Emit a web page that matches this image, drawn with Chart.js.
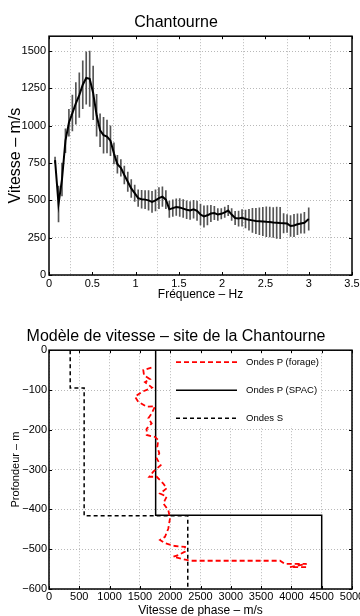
<!DOCTYPE html>
<html><head><meta charset="utf-8">
<script src="https://cdn.jsdelivr.net/npm/chart.js@4.4.0/dist/chart.umd.min.js"></script>
<style>
html,body{margin:0;padding:0;background:#fff;overflow:hidden;}
#w1{position:absolute;left:0;top:0;width:360px;height:306px;}
#w2{position:absolute;left:0;top:306px;width:360px;height:310px;}
</style></head><body>
<div id="w1"><canvas id="c1" width="360" height="306"></canvas></div>
<div id="w2"><canvas id="c2" width="360" height="310"></canvas></div>
<script>
// ---- Top chart: dispersion curve (Hz, m/s) ----
const freq = [0.07,0.11,0.15,0.19,0.23,0.27,0.31,0.35,0.39,0.43,0.47,0.51,0.55,0.59,0.63,0.67,0.71,0.75,0.79,0.83,0.87,0.91,0.95,0.99,1.03,1.07,1.11,1.15,1.19,1.23,1.27,1.31,1.35,1.39,1.43,1.47,1.51,1.55,1.59,1.63,1.67,1.71,1.75,1.79,1.83,1.87,1.91,1.95,1.99,2.03,2.07,2.11,2.15,2.19,2.23,2.27,2.31,2.35,2.39,2.43,2.47,2.51,2.55,2.59,2.63,2.67,2.71,2.75,2.79,2.83,2.87,2.91,2.95,3.00];
const vitesse = [770,475,640,900,1020,1085,1150,1205,1275,1320,1315,1220,1070,970,937,928,900,815,742,718,670,625,580,548,515,508,505,500,490,500,515,525,505,440,448,455,452,445,437,432,440,430,405,392,400,412,415,405,410,420,432,405,382,378,383,375,370,366,362,360,358,356,355,352,350,348,347,345,328,332,340,345,350,375];
const ecart = [20,120,110,80,90,120,140,150,160,175,185,180,140,110,120,110,100,70,60,55,60,65,60,55,55,60,60,65,70,70,70,65,60,55,55,55,60,60,60,60,60,65,70,72,65,55,45,40,35,35,35,40,45,50,55,60,70,80,85,90,95,100,100,100,105,105,65,60,70,75,70,65,70,75];

// ---- Bottom chart: velocity models (m/s, depth m) ----
const forageV = [1690,1556,1568,1667,1584,1700,1529,1419,1474,1612,1749,1694,1639,1694,1612,1612,1749,1804,1787,1820,1777,1843,1721,1655,1777,1886,1942,1832,1942,1886,1969,1997,1969,1914,1832,1914,2080,2244,2244,2134,2051,2162,2272,2327,3812,3894,4252,3977,4252];
const forageD = [-44,-50,-63,-73,-80,-94,-105,-117,-130,-142,-141,-159,-171,-184,-197,-213,-218,-226,-243,-259,-272,-289,-305,-318,-318,-335,-347,-360,-368,-385,-402,-422,-448,-469,-477,-485,-492,-494,-506,-515,-519,-523,-527,-529,-529,-537,-537,-545,-545];
const spacV = [1760,1760,4500,4500];
const spacD = [0,-415,-415,-600];
const sV = [350,350,580,580,2290,2290];
const sD = [0,-95,-95,-416,-416,-600];

const xTicksTop = [0,0.5,1,1.5,2,2.5,3,3.5];
const yTicksTop = [0,250,500,750,1000,1250,1500];

const FONT = "'Liberation Sans', Arial, Helvetica, sans-serif";
Chart.defaults.font.family = FONT;
Chart.defaults.color = '#000';

const framePlugin = {
  id: 'frame',
  afterDraw(chart) {
    const {ctx, chartArea: a, scales} = chart;
    ctx.save();
    ctx.strokeStyle = '#000';
    ctx.lineWidth = 1;
    const tl = 3;
    scales.x.ticks.forEach(t => {
      const p = Math.round(scales.x.getPixelForValue(t.value)) + 0.5;
      ctx.beginPath();
      ctx.moveTo(p, a.bottom); ctx.lineTo(p, a.bottom - tl);
      ctx.moveTo(p, a.top); ctx.lineTo(p, a.top + tl);
      ctx.stroke();
    });
    scales.y.ticks.forEach(t => {
      const p = Math.round(scales.y.getPixelForValue(t.value)) + 0.5;
      ctx.beginPath();
      ctx.moveTo(a.left, p); ctx.lineTo(a.left + tl, p);
      ctx.moveTo(a.right, p); ctx.lineTo(a.right - tl, p);
      ctx.stroke();
    });
    ctx.lineWidth = 1.5;
    ctx.strokeRect(a.left, a.top, a.right - a.left, a.bottom - a.top);
    ctx.restore();
  }
};

const gridOpts = {color: '#b8b8b8', drawTicks: false, lineWidth: 1};

new Chart(document.getElementById('c1'), {
  type: 'line',
  data: {
    datasets: [
      {type: 'line', label: 'Vitesse', data: freq.map((f, i) => ({x: f, y: vitesse[i]})),
       borderColor: '#000', borderWidth: 2, pointRadius: 0, tension: 0, order: 0},
      {type: 'bar', label: 'Écart', data: freq.map((f, i) => ({x: f, y: [vitesse[i] - ecart[i], vitesse[i] + ecart[i]]})),
       backgroundColor: '#555', borderWidth: 0, barThickness: 1, order: 1}
    ]
  },
  options: {
    responsive: false, animation: false, events: [],
    layout: {padding: {left: 0, right: 8, top: 0, bottom: 0}},
    plugins: {
      legend: {display: false}, tooltip: {enabled: false},
      title: {display: true, text: 'Chantourne', color: '#000', font: {size: 16, weight: 'normal'}, padding: {top: 12.5, bottom: 4.5}}
    },
    scales: {
      x: {
        type: 'linear', min: 0, max: 3.5, offset: false,
        afterBuildTicks(s) { s.ticks = xTicksTop.map(v => ({value: v})); },
        ticks: {padding: 2, maxRotation: 0, autoSkip: false, font: {size: 11}, color: '#000', callback: v => String(v)},
        grid: gridOpts, border: {display: false, dash: [1, 2]},
        title: {display: true, text: 'Fréquence – Hz', color: '#000', font: {size: 12}, padding: {top: 0, bottom: 4}},
        afterFit(s) { s.height = 31; s.paddingLeft = 0; s.paddingRight = 0; }
      },
      y: {
        type: 'linear', min: 0, max: 1600,
        afterBuildTicks(s) { s.ticks = yTicksTop.map(v => ({value: v})); },
        ticks: {padding: 3, autoSkip: false, font: {size: 11}, color: '#000', callback: v => String(v)},
        grid: gridOpts, border: {display: false, dash: [1, 2]},
        title: {display: true, text: 'Vitesse – m/s', color: '#000', font: {size: 16}, padding: {top: 6, bottom: 0}},
        afterFit(s) { s.width = 49; s.paddingTop = 0; s.paddingBottom = 0; }
      }
    }
  },
  plugins: [framePlugin]
});

const legendPlugin = {
  id: 'innerLegend',
  afterDatasetsDraw(chart) {
    const {ctx, chartArea: a} = chart;
    ctx.save();
    ctx.fillStyle = '#fff';
    ctx.fillRect(a.left + 123, a.top + 2, 148, 74);
    const rows = [12, 40, 68];
    chart.data.datasets.forEach((ds, i) => {
      const y = a.top + rows[i];
      ctx.strokeStyle = ds.borderColor;
      ctx.lineWidth = ds.borderWidth;
      ctx.setLineDash(ds.borderDash || []);
      ctx.beginPath();
      ctx.moveTo(a.left + 127, y); ctx.lineTo(a.left + 188, y);
      ctx.stroke();
      ctx.setLineDash([]);
      ctx.fillStyle = '#000';
      ctx.font = '9.5px ' + FONT;
      ctx.textBaseline = 'middle';
      ctx.textAlign = 'left';
      ctx.fillText(ds.label, a.left + 197, y);
    });
    ctx.restore();
  }
};

const xTicksBot = [0,500,1000,1500,2000,2500,3000,3500,4000,4500,5000];
const yTicksBot = [0,-100,-200,-300,-400,-500,-600];
const pts = (V, D) => V.map((v, i) => ({x: v, y: D[i]}));

new Chart(document.getElementById('c2'), {
  type: 'scatter',
  data: {
    datasets: [
      {label: 'Ondes P (forage)', data: pts(forageV, forageD), showLine: true, borderColor: '#ff0000', borderWidth: 1.8, borderDash: [5, 3], pointRadius: 0, tension: 0},
      {label: 'Ondes P (SPAC)', data: pts(spacV, spacD), showLine: true, borderColor: '#000', borderWidth: 1.5, pointRadius: 0, tension: 0},
      {label: 'Ondes S', data: pts(sV, sD), showLine: true, borderColor: '#000', borderWidth: 1.5, borderDash: [4, 3], pointRadius: 0, tension: 0}
    ]
  },
  options: {
    responsive: false, animation: false, events: [],
    layout: {padding: {left: 0, right: 8, top: 0, bottom: 0}},
    plugins: {
      legend: {display: false}, tooltip: {enabled: false},
      title: {display: true, text: 'Modèle de vitesse – site de la Chantourne', color: '#000', font: {size: 16, weight: 'normal'}, padding: {top: 20.5, bottom: 4.5}}
    },
    scales: {
      x: {
        type: 'linear', min: 0, max: 5000,
        afterBuildTicks(s) { s.ticks = xTicksBot.map(v => ({value: v})); },
        ticks: {padding: 1, maxRotation: 0, autoSkip: false, font: {size: 11}, color: '#000', callback: v => String(v)},
        grid: gridOpts, border: {display: false, dash: [1, 2]},
        title: {display: true, text: 'Vitesse de phase – m/s', color: '#000', font: {size: 12, lineHeight: 1}, padding: {top: 0, bottom: -1}},
        afterFit(s) { s.height = 27; s.paddingLeft = 0; s.paddingRight = 0; }
      },
      y: {
        type: 'linear', min: -600, max: 0,
        afterBuildTicks(s) { s.ticks = yTicksBot.map(v => ({value: v})); },
        ticks: {padding: 2, autoSkip: false, font: {size: 11}, color: '#000', callback: v => String(v).replace('-', '\u2212')},
        grid: gridOpts, border: {display: false, dash: [1, 2]},
        title: {display: true, text: 'Profondeur – m', color: '#000', font: {size: 11}, padding: {top: 9, bottom: 0}},
        afterFit(s) { s.width = 49; s.paddingTop = 0; s.paddingBottom = 0; }
      }
    }
  },
  plugins: [legendPlugin, framePlugin]
});
</script>
</body></html>
